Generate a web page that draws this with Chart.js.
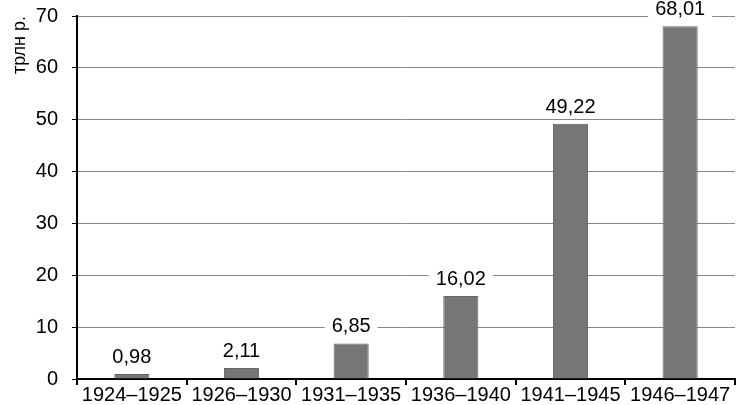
<!DOCTYPE html>
<html>
<head>
<meta charset="utf-8">
<script src="https://cdn.jsdelivr.net/npm/chart.js@4"></script>
<style>
  body { margin: 0; background: #fff; }
  #wrap { width: 736px; height: 405px; }
</style>
</head>
<body>
<div id="wrap"><canvas id="chart"></canvas></div>
<script>
// данные
var periods = ['1924–1925', '1926–1930', '1931–1935', '1936–1940', '1941–1945', '1946–1947'];
var values = [0.98, 2.11, 6.85, 16.02, 49.22, 68.01];
var yTicks = [0, 10, 20, 30, 40, 50, 60, 70];

var FONT = '"Liberation Sans", Arial, sans-serif';

// подписи над столбцами
var barLabels = {
  id: 'barLabels',
  afterDatasetsDraw: function (chart) {
    var ctx = chart.ctx;
    var meta = chart.getDatasetMeta(0);
    ctx.save();
    ctx.font = '20px ' + FONT;
    ctx.textAlign = 'center';
    ctx.textBaseline = 'alphabetic';
    meta.data.forEach(function (bar, i) {
      var txt = values[i].toFixed(2).replace('.', ',');
      var w = ctx.measureText(txt).width + 14;
      var base = bar.y - 11;
      ctx.fillStyle = '#fff';
      ctx.fillRect(bar.x - w / 2, base - 17, w, 22);
      ctx.fillStyle = '#000';
      ctx.fillText(txt, bar.x, base);
    });
    ctx.restore();
  }
};

new Chart(document.getElementById('chart'), {
  type: 'bar',
  data: {
    labels: periods,
    datasets: [{
      data: values,
      backgroundColor: '#767676',
      borderColor: '#666',
      borderWidth: 1,
      barPercentage: 0.64,
      categoryPercentage: 0.5
    }]
  },
  options: {
    responsive: true,
    maintainAspectRatio: false,
    animation: false,
    layout: { padding: { top: 16, right: 1, left: 0, bottom: 0 } },
    plugins: { legend: { display: false }, tooltip: { enabled: false } },
    scales: {
      x: {
        afterFit: function (axis) { axis.height = 26; axis.paddingLeft = 0; axis.paddingRight = 0; },
        grid: { display: true, drawOnChartArea: false, offset: true, tickLength: 6, color: '#000', lineWidth: 2 },
        border: { color: '#000', width: 2 },
        ticks: { color: '#000', font: { size: 20, family: FONT }, padding: -2, maxRotation: 0, autoSkip: false }
      },
      y: {
        min: 0,
        max: 70,
        afterBuildTicks: function (axis) {
          axis.ticks = yTicks.map(function (v) { return { value: v }; });
        },
        afterFit: function (axis) { axis.width = 77; axis.paddingTop = 0; axis.paddingBottom = 0; },
        grid: { color: '#888', lineWidth: 1, tickLength: 5, tickColor: '#000' },
        border: { color: '#000', width: 2 },
        title: { display: true, text: 'трлн р.', align: 'end', color: '#000', padding: { top: 9, bottom: 0 }, font: { size: 18, family: FONT } },
        ticks: { color: '#000', padding: 14, font: { size: 20, family: FONT } }
      }
    }
  },
  plugins: [barLabels]
});
</script>
</body>
</html>
